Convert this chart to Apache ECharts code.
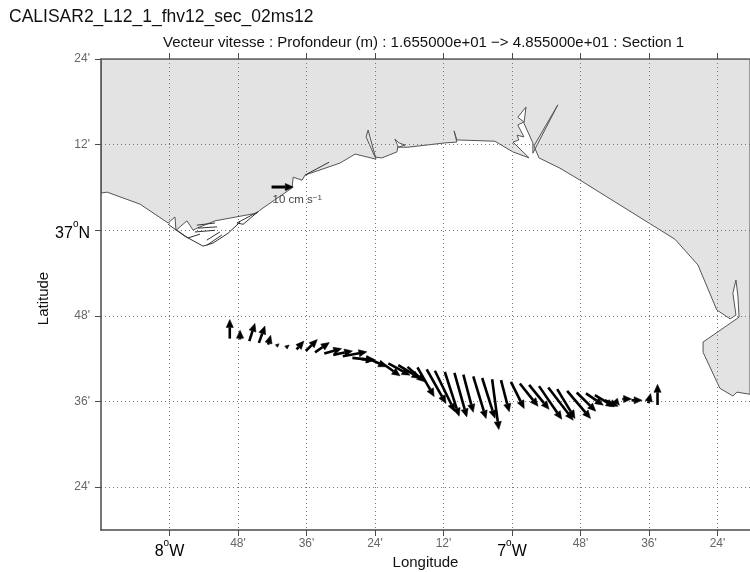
<!DOCTYPE html>
<html><head><meta charset="utf-8">
<style>html,body{margin:0;padding:0;background:#fff}#c{width:750px;height:572px}</style>
<script src="https://cdn.jsdelivr.net/npm/echarts@6/dist/echarts.min.js"></script>
</head><body><div id="c"></div>
<script>
const titleText = 'CALISAR2_L12_1_fhv12_sec_02ms12';
const subtitleText = 'Vecteur vitesse : Profondeur (m) : 1.655000e+01 \u2212> 4.855000e+01 : Section 1';

const xTickValues = [-8, -7.8, -7.6, -7.4, -7.2, -7, -6.8, -6.6, -6.4];
const xTickLabels = ['8|W', "48'", "36'", "24'", "12'", '7|W', "48'", "36'", "24'"];
const yTickValues = [36.4, 36.6, 36.8, 37, 37.2, 37.4];
const yTickLabels = ["24'", "36'", "48'", '37|N', "12'", "24'"];

// land outline (degrees)
const landLon = [-8.200,-8.182,-8.086,-8.004,-7.984,-7.981,-7.949,-7.931,-7.920,-7.867,-7.745,-7.736,-7.642,-7.639,-7.613,-7.604,-7.502,-7.458,-7.397,-7.420,-7.426,-7.400,-7.380,-7.336,-7.333,-7.342,-7.330,-7.312,-7.333,-7.304,-7.196,-7.161,-7.169,-7.161,-7.050,-6.997,-6.950,-6.997,-6.980,-6.985,-6.965,-6.983,-6.965,-6.983,-6.959,-6.965,-6.939,-6.939,-6.866,-6.936,-6.921,-6.860,-6.801,-6.524,-6.457,-6.402,-6.363,-6.346,-6.355,-6.346,-6.340,-6.337,-6.442,-6.442,-6.393,-6.355,-6.343,-6.305,-6.305,-8.200];
const landLat = [37.087,37.089,37.061,37.017,37.031,37.000,37.022,37.000,37.005,37.022,37.040,37.047,37.099,37.124,37.117,37.129,37.157,37.178,37.166,37.234,37.218,37.171,37.169,37.183,37.197,37.213,37.204,37.199,37.194,37.194,37.204,37.206,37.232,37.211,37.208,37.183,37.169,37.206,37.211,37.222,37.218,37.246,37.253,37.264,37.288,37.250,37.204,37.180,37.293,37.197,37.169,37.145,37.117,36.979,36.919,36.814,36.793,36.802,36.853,36.884,36.844,36.797,36.739,36.715,36.631,36.613,36.622,36.617,37.400,37.400];

// estuary outlines and hatching drawn as thin lines (null separates pieces)
const estuaryLon = [-8.004,-7.955,-7.902,-7.873,-7.829,-7.794,null,-7.920,-7.867,null,-7.917,-7.861,null,-7.926,-7.867,null,-7.946,-7.911,null,-7.891,-7.853,null,-7.891,-7.847,null,-7.978,-7.946,null,-7.803,-7.785,-7.742,-7.803,null,-7.604,-7.534];
const estuaryLat = [37.014,36.986,36.963,36.970,36.993,37.019,null,37.012,37.017,null,37.005,37.008,null,36.996,37.000,null,36.982,36.991,null,36.977,36.996,null,36.965,36.989,null,37.000,36.982,null,37.017,37.014,37.043,37.017,null,37.129,37.159];

// current vectors: section position (degrees) and velocity (cm/s)
const vecLon = [-7.824,-7.794,-7.767,-7.739,-7.712,-7.687,-7.660,-7.629,-7.602,-7.575,-7.548,-7.522,-7.494,-7.466,-7.439,-7.410,-7.385,-7.361,-7.332,-7.305,-7.276,-7.249,-7.225,-7.196,-7.168,-7.142,-7.113,-7.087,-7.058,-7.032,-7.003,-6.977,-6.950,-6.921,-6.894,-6.868,-6.839,-6.811,-6.784,-6.758,-6.729,-6.699,-6.678,-6.651,-6.602,-6.575];
const vecLat = [36.747,36.745,36.741,36.737,36.733,36.730,36.726,36.722,36.718,36.715,36.712,36.709,36.706,36.702,36.699,36.697,36.693,36.689,36.685,36.681,36.680,36.675,36.672,36.669,36.667,36.663,36.659,36.655,36.652,36.650,36.646,36.642,36.639,36.636,36.633,36.629,36.625,36.621,36.619,36.615,36.603,36.603,36.606,36.603,36.596,36.592];
const vecU = [0,0,2.6,2.8,1.2,1.1,1.5,3.4,5.3,6.6,8.0,8.9,11.1,10,6.1,6.9,9.2,10,10,8,7.7,8.9,9.2,6.6,5.7,4.6,5.9,5.9,3.1,3.8,6.1,8.4,9.2,10.5,11.5,8.2,10.8,8.8,8,8.9,6.1,2,4.3,4.9,1.1,0];
const vecV = [8.8,4.3,8.2,7.8,4.3,1.0,1.2,3.8,5.3,4.5,2.3,1.8,2.0,-1.1,-0.2,-3.1,-6.5,-5.4,-6.1,-6.9,-13.5,-15.7,-18.9,-20.4,-20.3,-17.4,-19.5,-18.6,-23.2,-14.6,-12.3,-10.5,-11.3,-15.3,-15.1,-13.5,-12.7,-8.6,-5.4,-5.4,-2.8,-2.3,0,0,4.5,9.5];

// reference arrow
const refLon = [-7.702];
const refLat = [37.101];
const refU = [10];
const refV = [0];

const FONT = '"Liberation Sans", Arial, sans-serif';
const AXIS = '#4a4a4a';
const PX_PER_CM = 2.17;

function zip(a, b) { return a.map((v, i) => (v === null ? [null, null] : [v, b[i]])); }

function arrow(api, params, lw) {
  const t = api.coord([api.value(0), api.value(1)]);
  const dx = api.value(2) * PX_PER_CM, dy = -api.value(3) * PX_PER_CM;
  const len = Math.hypot(dx, dy) || 1;
  const ux = dx / len, uy = dy / len;
  const h = [t[0] + dx, t[1] + dy];
  const hl = Math.min(8, Math.max(3.5, len));
  const hw = Math.min(3.6, Math.max(1.6, hl * 0.47));
  const b = [h[0] - ux * hl, h[1] - uy * hl];
  return {
    type: 'group',
    children: [
      { type: 'line', shape: { x1: t[0], y1: t[1], x2: b[0], y2: b[1] },
        style: { stroke: '#000', lineWidth: lw } },
      { type: 'polygon', shape: { points: [h, [b[0] - uy * hw, b[1] + ux * hw], [b[0] + uy * hw, b[1] - ux * hw]] },
        style: { fill: '#000', stroke: '#000', lineWidth: 0.5 } }
    ]
  };
}

function tickRich(value, list, labels) {
  const i = list.findIndex(v => Math.abs(v - value) < 1e-6);
  if (i < 0) return '';
  const s = labels[i];
  if (s.indexOf('|') < 0) return s;
  const p = s.split('|');
  return '{d|' + p[0] + '}{o|o}{d|' + p[1] + '}';
}
const richStyle = {
  d: { fontFamily: FONT, fontSize: 16, color: '#000', padding: [6, 0, 0, 0] },
  o: { fontFamily: FONT, fontSize: 10, color: '#000', verticalAlign: 'top', padding: [0, 0, 0, 0] }
};

const chart = echarts.init(document.getElementById('c'), null, { renderer: 'canvas' });
chart.setOption({
  animation: false,
  backgroundColor: '#fff',
  title: [
    { text: titleText, left: 9, top: 8, padding: 0,
      textStyle: { fontFamily: FONT, fontSize: 17.5, fontWeight: 'normal', color: '#111' } },
    { text: subtitleText, left: 163, top: 35, padding: 0,
      textStyle: { fontFamily: FONT, fontSize: 15, fontWeight: 'normal', color: '#111' } }
  ],
  grid: { left: 101, right: 0, top: 59, bottom: 42, outerBoundsMode: 'none', containLabel: false },
  xAxis: [{
    type: 'value', min: -8.2, max: -6.305, position: 'bottom', z: 3,
    name: 'Longitude', nameLocation: 'middle', nameGap: 25, nameMoveOverlap: false,
    nameTextStyle: { fontFamily: FONT, fontSize: 15, color: '#111', padding: [0, 0, 0, 0] },
    axisLine: { show: true, onZero: false, lineStyle: { color: AXIS, width: 1.5 } },
    axisTick: { show: true, length: 6, customValues: xTickValues, lineStyle: { color: AXIS } },
    axisLabel: { customValues: xTickValues, margin: 8, fontFamily: FONT, fontSize: 12, color: '#666',
      formatter: v => tickRich(v, xTickValues, xTickLabels), rich: richStyle },
    splitLine: { show: true, lineStyle: { type: [1, 3], color: '#777', width: 1 } }
  }, {
    type: 'value', min: -8.2, max: -6.305, position: 'top', z: 3,
    axisLine: { show: true, onZero: false, lineStyle: { color: '#666', width: 1.5 } },
    axisTick: { show: true, length: 6, customValues: xTickValues, lineStyle: { color: AXIS } },
    axisLabel: { show: false }, splitLine: { show: false }
  }],
  yAxis: [{
    type: 'value', min: 36.3, max: 37.4, z: 3,
    name: 'Latitude', nameLocation: 'middle', nameGap: 50, nameRotate: 90, nameMoveOverlap: false,
    nameTextStyle: { fontFamily: FONT, fontSize: 15, color: '#111', padding: [0, 8, 0, 0] },
    axisLine: { show: true, onZero: false, lineStyle: { color: AXIS, width: 1.5 } },
    axisTick: { show: true, length: 6, customValues: yTickValues, lineStyle: { color: AXIS } },
    axisLabel: { customValues: yTickValues, margin: 11, fontFamily: FONT, fontSize: 12, color: '#666',
      formatter: v => tickRich(v, yTickValues, yTickLabels), rich: richStyle },
    splitLine: { show: true, lineStyle: { type: [1, 3], color: '#777', width: 1 } }
  }],
  series: [
    {
      type: 'custom', name: 'land', z: 1, silent: true, clip: true,
      coordinateSystem: 'cartesian2d', xAxisIndex: 0, yAxisIndex: 0,
      data: zip(landLon, landLat),
      renderItem: (params, api) => {
        if (params.dataIndex !== 0) return null;
        const pts = landLon.map((v, i) => api.coord([v, landLat[i]]));
        return { type: 'polygon', shape: { points: pts },
          style: { fill: '#e3e3e3', stroke: '#555', lineWidth: 1 } };
      }
    },
    {
      type: 'line', name: 'estuaries', z: 4, silent: true, symbol: 'none',
      connectNulls: false, xAxisIndex: 0, yAxisIndex: 0,
      data: zip(estuaryLon, estuaryLat),
      lineStyle: { color: '#333', width: 1 }
    },
    {
      type: 'custom', name: 'vectors', z: 5, silent: true, clip: true,
      coordinateSystem: 'cartesian2d', xAxisIndex: 0, yAxisIndex: 0,
      data: vecLon.map((v, i) => [v, vecLat[i], vecU[i], vecV[i]]),
      renderItem: (params, api) => arrow(api, params, 2.6)
    },
    {
      type: 'custom', name: 'reference', z: 5, silent: true, clip: true,
      coordinateSystem: 'cartesian2d', xAxisIndex: 0, yAxisIndex: 0,
      data: refLon.map((v, i) => [v, refLat[i], refU[i], refV[i]]),
      renderItem: (params, api) => {
        const g = arrow(api, params, 3);
        const t = api.coord([api.value(0), api.value(1)]);
        g.children.push({ type: 'text', x: t[0] + 1, y: t[1] + 7,
          style: { text: '{a|10 cm s}{b|\u22121}',
            rich: { a: { fontFamily: FONT, fontSize: 11.5, fill: '#444', color: '#444' },
                    b: { fontFamily: FONT, fontSize: 8, fill: '#444', color: '#444', verticalAlign: 'top' } } } });
        return g;
      }
    }
  ]
});
</script></body></html>
